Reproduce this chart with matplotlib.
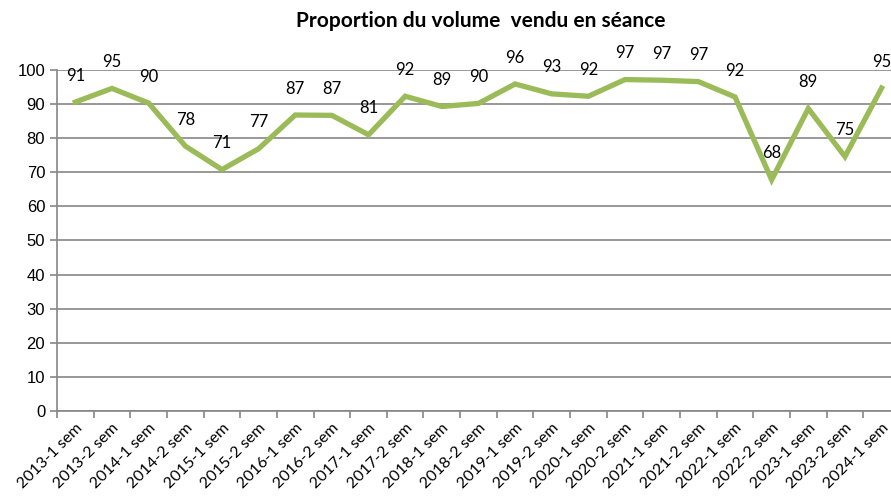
import numpy as np
import matplotlib.pyplot as plt

# semesters and share of volume sold in session (%)
periods = ['2013-1 sem', '2013-2 sem', '2014-1 sem', '2014-2 sem', '2015-1 sem',
           '2015-2 sem', '2016-1 sem', '2016-2 sem', '2017-1 sem', '2017-2 sem',
           '2018-1 sem', '2018-2 sem', '2019-1 sem', '2019-2 sem', '2020-1 sem',
           '2020-2 sem', '2021-1 sem', '2021-2 sem', '2022-1 sem', '2022-2 sem',
           '2023-1 sem', '2023-2 sem', '2024-1 sem']
share = [90.6, 94.6, 90.3, 77.7, 70.8, 76.9, 86.8, 86.7, 81.0, 92.3, 89.3, 90.2,
         95.9, 93.0, 92.3, 97.2, 97.0, 96.6, 92.1, 67.8, 88.7, 74.6, 94.7]
labels = [91, 95, 90, 78, 71, 77, 87, 87, 81, 92, 89, 90,
          96, 93, 92, 97, 97, 97, 92, 68, 89, 75, 95]

fig = plt.figure(figsize=(8.91, 5), dpi=100)
ax = fig.add_axes([0.064, 0.178, 0.946, 0.682])

x = np.arange(len(periods))
ax.plot(x, share, c='#9BBB59', lw=3.8, solid_joinstyle='miter', zorder=3)

for xi, yi, lab in zip(x, share, labels):
    ax.annotate(str(lab), (xi, yi), xytext=(0, 19), textcoords='offset points',
                ha='center', va='center', fontsize=12, family='Lato')

ax.set_xlim(-0.5, len(periods) - 0.5)
ax.set_ylim(0, 100)
ax.set_yticks(np.arange(0, 101, 10))
ax.yaxis.grid(True, color='#868686', lw=1.2)
ax.set_axisbelow(True)

ax.set_xticks(x)
ax.set_xticklabels(periods, rotation=45, ha='right', rotation_mode='anchor',
                   fontsize=11.5, family='Lato')
ax.set_xticks(np.arange(-0.5, len(periods), 1), minor=True)
ax.tick_params(axis='x', which='major', length=0, pad=7)
ax.tick_params(axis='x', which='minor', length=5, color='#868686', width=1.2)
ax.tick_params(axis='y', length=5, color='#868686', width=1.2, labelsize=12)
for t in ax.get_yticklabels():
    t.set_family('Liberation Sans')

for s in ['top', 'right']:
    ax.spines[s].set_visible(False)
for s in ['left', 'bottom']:
    ax.spines[s].set_color('#868686')
    ax.spines[s].set_linewidth(1.2)

fig.text(0.54, 0.958, 'Proportion du volume  vendu en séance', ha='center',
         va='center', fontsize=15, fontweight='bold', family='Lato')

fig.savefig('out.png', dpi=100)
